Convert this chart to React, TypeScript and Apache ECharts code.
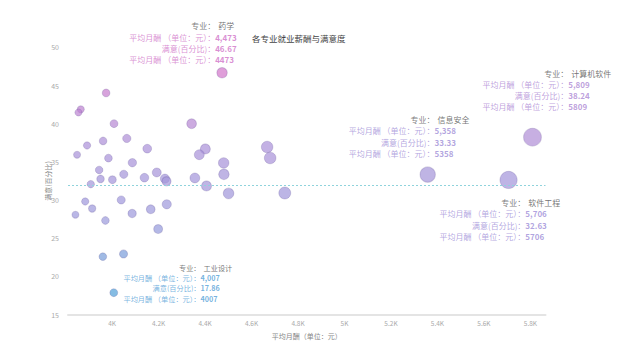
import { useEffect, useRef } from 'react';
import * as echarts from 'echarts';

// 平均月酬（单位：元）
const salary = [
  3974, 3865, 3855, 4008, 4342, 4667, 4680, 4063, 3961, 3892,
  4151, 3849, 4401, 4375, 4480, 3984, 4087, 3944, 4192, 4481,
  4356, 3950, 4001, 4050, 4139, 4227, 4234, 3908, 4406, 4501,
  4743, 3884, 4039, 3842, 3914, 3971, 4086, 4166, 4235, 4198,
  3960, 4049, 4007, 4473, 5358, 5809, 5706,
];
// 满意(百分比)
const satisfaction = [
  44.03, 41.89, 41.47, 40.01, 40.0, 36.95, 35.51, 38.07, 37.74, 37.15,
  36.73, 35.94, 36.69, 35.94, 34.86, 35.49, 34.89, 33.94, 33.61, 33.37,
  32.89, 32.76, 32.67, 33.37, 32.93, 32.8, 32.46, 32.08, 31.84, 30.86,
  30.92, 29.81, 30.01, 28.08, 28.89, 27.32, 28.24, 28.79, 29.44, 26.21,
  22.58, 22.93, 17.86, 46.67, 33.33, 38.24, 32.63,
];
// 专业 (only the labelled ones are known)
const majorNames = [
  '', '', '', '', '', '', '', '', '', '',
  '', '', '', '', '', '', '', '', '', '',
  '', '', '', '', '', '', '', '', '', '',
  '', '', '', '', '', '', '', '', '', '',
  '', '', '工业设计', '药学', '信息安全', '计算机软件', '软件工程',
];
const xTickValues = [4000, 4200, 4400, 4600, 4800, 5000, 5200, 5400, 5600, 5800];
const refSatisfaction = 31.97;

const FONT = '"Noto Sans CJK SC", "Noto Sans", sans-serif';
const VM_MIN = 17;
const VM_MAX = 47;
const VM_COLORS = ['#4a9fd6', '#9a9adc', '#aa90d8', '#d274c8'];

// label placement styles: [dx, dy, fontSize, lineHeight]
const labelStyles: Record<string, [number, number, number, number]> = {
  药学: [-92.7, -52.7, 8, 11.3],
  计算机软件: [-50, -69.7, 8, 11.3],
  信息安全: [-79, -60.7, 8, 11.3],
  软件工程: [-69, 17, 8, 11.3],
  工业设计: [9.7, -29.8, 7.2, 10.2],
};

let ctx: CanvasRenderingContext2D | null = null;
function measure(text: string, size: number, weight = 'normal') {
  if (!ctx) ctx = document.createElement('canvas').getContext('2d');
  if (!ctx) return text.length * size;
  ctx.font = `${weight} ${size}px ${FONT}`;
  return ctx.measureText(text).width;
}

function visualColor(s: number) {
  const t = Math.min(1, Math.max(0, (s - VM_MIN) / (VM_MAX - VM_MIN)));
  return echarts.color.lerp(t, VM_COLORS) as string;
}

function buildLabel(name: string, v: number, s: number) {
  const [dx, dy, fs, lh] = labelStyles[name];
  const color = echarts.color.modifyHSL(
    visualColor(s),
    undefined,
    undefined,
    (l: number) => Math.max(0, l - 0.06)
  ) as string;
  const names = ['专业：', '平均月酬 （单位：元）：', '满意(百分比)：', '平均月酬 （单位：元）：'];
  const widths = names.map((n) => measure(n, fs));
  const W = Math.max(...widths);
  const rich: Record<string, any> = {};
  names.forEach((_, i) => {
    rich['n' + i] = {
      fontSize: fs,
      lineHeight: lh,
      fontFamily: FONT,
      padding: [0, 0, 0, W - widths[i]],
      color: i === 0 ? '#444' : color,
    };
  });
  rich.v = { fontSize: fs, lineHeight: lh, fontFamily: FONT, fontWeight: 'bold', color };
  rich.t = { fontSize: fs, lineHeight: lh, fontFamily: FONT, color: '#333', padding: [0, 0, 0, 3] };
  const formatter =
    `{n0|${names[0]}}{t|${name}}\n` +
    `{n1|${names[1]}}{v|${v.toLocaleString('en-US')}}\n` +
    `{n2|${names[2]}}{v|${s.toFixed(2)}}\n` +
    `{n3|${names[3]}}{v|${v}}`;
  return {
    show: true,
    position: ['50%', '50%'],
    offset: [dx, dy],
    align: 'left',
    verticalAlign: 'top',
    fontSize: fs,
    lineHeight: lh,
    fontFamily: FONT,
    color,
    formatter,
    rich,
  };
}

export default function App() {
  const ref = useRef<HTMLDivElement>(null);
  useEffect(() => {
    if (!ref.current) return;
    const chart = echarts.init(ref.current, null, { renderer: 'svg' });
    const data = salary.map((v, i) => {
      const name = majorNames[i];
      const item: any = { name, value: [v, satisfaction[i]] };
      if (name && labelStyles[name]) item.label = buildLabel(name, v, satisfaction[i]);
      return item;
    });
    chart.setOption({
      animation: false,
      textStyle: { fontFamily: FONT },
      title: {
        text: '各专业就业薪酬与满意度',
        left: 247,
        top: 29,
        textStyle: { fontSize: 8.5, fontWeight: 'normal', color: '#444', fontFamily: FONT },
      },
      grid: { left: 68, right: 94.5, top: 47.4, bottom: 45.5 },
      visualMap: {
        show: false,
        type: 'continuous',
        seriesIndex: 0,
        dimension: 1,
        min: VM_MIN,
        max: VM_MAX,
        inRange: { color: VM_COLORS },
      },
      xAxis: {
        type: 'value',
        min: 3810,
        max: 5865,
        name: '平均月酬（单位：元）',
        nameLocation: 'middle',
        nameGap: 18,
        nameMoveOverlap: false,
        nameTextStyle: { fontSize: 7, color: '#888', fontFamily: FONT },
        axisLine: { show: true, lineStyle: { color: '#e4e4e4', width: 2 } },
        axisTick: { show: false },
        splitLine: { show: false },
        axisLabel: {
          customValues: xTickValues,
          fontSize: 6.5,
          color: '#aaa',
          margin: 5,
          formatter: (v: number) => v / 1000 + 'K',
        },
      },
      yAxis: {
        type: 'value',
        min: 15,
        max: 50,
        interval: 5,
        name: '满意(百分比)',
        nameLocation: 'middle',
        nameGap: 17,
        nameMoveOverlap: false,
        nameTextStyle: { fontSize: 7, color: '#888', fontFamily: FONT },
        axisLine: { show: false },
        axisTick: { show: false },
        splitLine: { show: false },
        axisLabel: { fontSize: 7, color: '#aaa', margin: 9 },
      },
      series: [
        {
          type: 'scatter',
          data,
          symbolSize: (val: number[]) => 7 + (val[0] - 3840) * 0.0055,
          itemStyle: { opacity: 0.7, borderColor: 'rgba(70,50,130,0.28)', borderWidth: 1 },
          label: { show: false },
        },
        {
          type: 'scatter',
          data: [],
          markLine: {
            silent: true,
            symbol: 'none',
            label: { show: false },
            lineStyle: { type: [2, 2], color: '#8fd3dc', width: 1, opacity: 1 },
            data: [{ yAxis: refSatisfaction }],
          },
        },
      ],
    });
    return () => chart.dispose();
  }, []);
  return <div ref={ref} style={{ width: 640, height: 360, position: 'absolute', left: 0, top: 0 }} />;
}
